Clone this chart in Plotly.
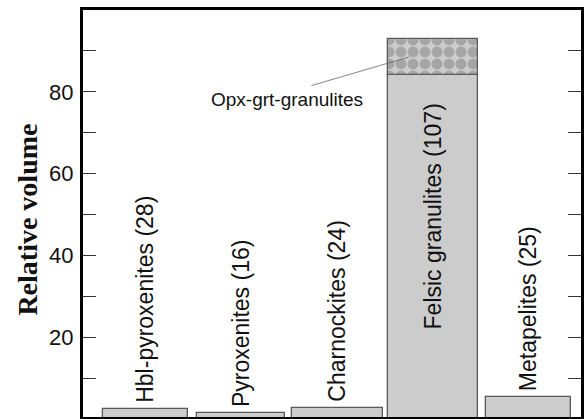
import plotly.graph_objects as go

# Rock groups, sample counts and relative volumes
groups = ["Hbl-pyroxenites", "Pyroxenites", "Charnockites", "Felsic granulites", "Metapelites"]
counts = [28, 16, 24, 107, 25]
volumes = [2.5, 1.4, 2.8, 84.0, 5.4]
bar_widths = [0.88, 0.92, 0.95, 0.94, 0.89]

# Opx-grt-granulites stacked on top of the felsic granulites
sub_group = "Opx-grt-granulites"
sub_parent = 3
sub_volume = 9.0

y_ticks = [20, 40, 60, 80]
y_minor = [10, 30, 50, 70, 90]

xs = list(range(len(groups)))
font_main = "Liberation Sans, Arial, sans-serif"

fig = go.Figure()
fig.add_trace(go.Bar(
    x=xs, y=volumes, width=bar_widths,
    marker=dict(color="#cccccc", line=dict(color="#5a5a5a", width=1.3)),
    hoverinfo="skip", showlegend=False,
))
fig.add_trace(go.Bar(
    x=[sub_parent], y=[sub_volume], base=[volumes[sub_parent]],
    width=[bar_widths[sub_parent]],
    marker=dict(
        color="#cccccc",
        line=dict(color="#5a5a5a", width=1.3),
        pattern=dict(shape=".", fgcolor="#7f7f7f", bgcolor="#cccccc",
                     size=12, solidity=0.65, fillmode="overlay"),
    ),
    hoverinfo="skip", showlegend=False,
))

# Vertical group labels: above the short bars, centred inside the tall one
for i, (g, n, v) in enumerate(zip(groups, counts, volumes)):
    label = f"{g} ({n})"
    if v > 40:
        fig.add_annotation(x=i, y=v / 2 + 7.5, text=label, textangle=-90,
                           showarrow=False, xanchor="center", yanchor="middle",
                           font=dict(family=font_main, size=23, color="#111111"))
    else:
        fig.add_annotation(x=i, y=v, text=label, textangle=-90,
                           showarrow=False, xanchor="center", yanchor="bottom",
                           yshift=4,
                           font=dict(family=font_main, size=23, color="#111111"))

# Callout for the patterned segment: leader line plus a separate label
fig.add_annotation(
    x=sub_parent - 0.25, y=volumes[sub_parent] + sub_volume * 0.5,
    ax=-99, ay=29, axref="pixel", ayref="pixel",
    text="", showarrow=True, arrowhead=0, arrowwidth=0.8,
    arrowcolor="#666666", standoff=0,
)
fig.add_annotation(
    x=1.474, y=78.0, text=sub_group, showarrow=False,
    font=dict(family=font_main, size=19, color="#111111"),
    xanchor="center", yanchor="middle",
)

# Axis title
fig.add_annotation(
    xref="paper", yref="paper", x=0, y=0.485, xshift=-55,
    text="<b>Relative volume</b>", textangle=-90, showarrow=False,
    font=dict(family="Liberation Serif, Times New Roman, serif", size=28, color="#111111"),
    xanchor="center", yanchor="middle",
)

fig.update_layout(
    width=584, height=419,
    margin=dict(l=83, r=0, t=10, b=2),
    plot_bgcolor="white", paper_bgcolor="white",
    barmode="overlay", bargap=0,
)
fig.update_xaxes(
    range=[-0.652, 4.546], showticklabels=False, ticks="",
    showline=True, linecolor="black", linewidth=3, mirror=True,
    showgrid=False, zeroline=False,
)
fig.update_yaxes(
    range=[0.5, 100], tickvals=y_ticks, ticks="inside", ticklen=13,
    tickwidth=1.3, tickcolor="#333333",
    minor=dict(tickvals=y_minor, ticks="inside", ticklen=13, tickwidth=1.3,
               tickcolor="#333333"),
    showline=True, linecolor="black", linewidth=3, mirror="ticks",
    showgrid=False, zeroline=False,
    tickfont=dict(family=font_main, size=22, color="#111111"),
    ticklabelstandoff=2,
)

fig.write_html("out.html")
